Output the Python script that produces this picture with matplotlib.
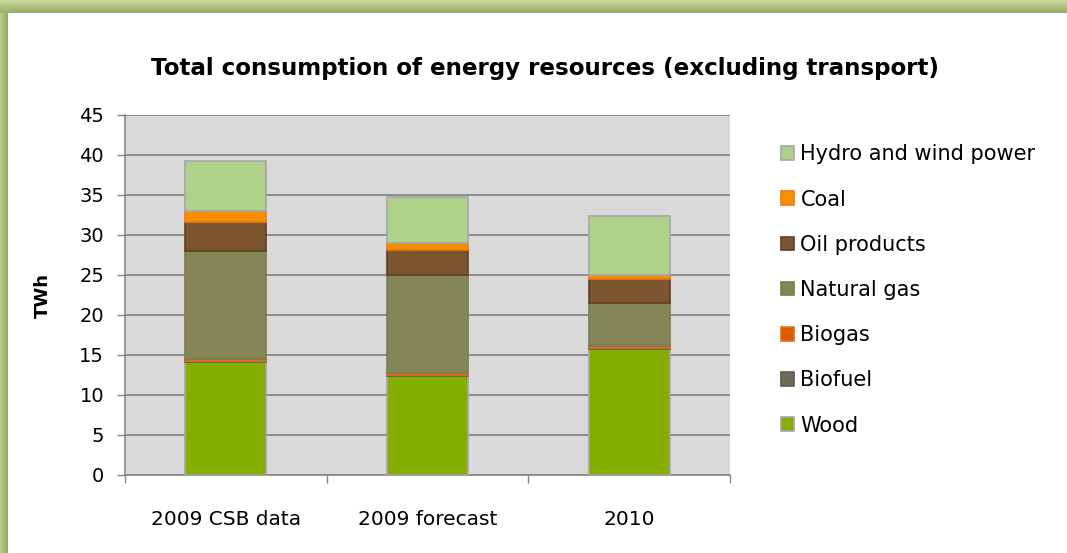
import matplotlib
matplotlib.use("Agg")
import matplotlib.pyplot as plt
import numpy as np
from matplotlib.patches import Patch

categories = ["2009 CSB data", "2009 forecast", "2010"]
series_names = ["Wood", "Biofuel", "Biogas", "Natural gas", "Oil products", "Coal", "Hydro and wind power"]
wood = [14.1, 12.35, 15.7]
biofuel = [0.1, 0.1, 0.15]
biogas = [0.25, 0.25, 0.3]
natural_gas = [13.6, 12.3, 5.3]
oil_products = [3.55, 3.1, 3.05]
coal = [1.4, 0.95, 0.5]
hydro_wind = [6.25, 5.75, 7.4]
yticks = list(range(0, 50, 5))

series_values = [wood, biofuel, biogas, natural_gas, oil_products, coal, hydro_wind]
face_colors = ["#84AE00", "#6F6A55", "#D85B00", "#848657", "#7B5530", "#F79000", "#AED28A"]
edge_colors = ["#A6A6A6", "#5E5A48", "#E07020", "#7A7C50", "#5E4024", "#F07A10", "#A6A6A6"]

plt.rcParams['font.family'] = ['DejaVu Sans']

fig = plt.figure(figsize=(10.67, 5.53), dpi=100)
fig.patch.set_facecolor("white")

# green frame
W, H = 1067, 553
top_band = 13 / H
left_band = 8 / W
grad = np.linspace(0, 1, 50).reshape(-1, 1)
ax_top = fig.add_axes([0, 1 - top_band, 1, top_band])
ax_top.imshow(grad, aspect='auto', cmap=matplotlib.colors.LinearSegmentedColormap.from_list("g", ["#98AC6C", "#C9DC9C"]), origin='lower', extent=[0, 1, 0, 1])
ax_top.axis('off')
ax_left = fig.add_axes([0, 0, left_band, 1 - top_band])
ax_left.imshow(grad.T, aspect='auto', cmap=matplotlib.colors.LinearSegmentedColormap.from_list("g2", ["#B9CF8C", "#94A868"]), extent=[0, 1, 0, 1])
ax_left.axis('off')

ax = fig.add_axes([125 / W, 1 - 475 / H, 605 / W, 360 / H])
ax.set_facecolor("#D9D9D9")
x = np.arange(len(categories))
bottom = np.zeros(len(categories))
for name, vals, fc, ec in zip(series_names, series_values, face_colors, edge_colors):
    ax.bar(x, vals, bottom=bottom, width=0.4, color=fc, edgecolor=ec, linewidth=1.2, label=name, zorder=3)
    bottom += np.array(vals)

ax.set_xlim(-0.5, len(categories) - 0.5)
ax.set_ylim(0, 45)
ax.set_yticks(yticks)
ax.tick_params(axis='y', direction='out', length=6, color="#868686", labelsize=14, pad=9, width=1)
ax.set_xticks(x)
ax.set_xticklabels(categories, fontsize=14.5)
ax.tick_params(axis='x', length=0, pad=25)
ax.set_xticks(np.arange(len(categories) + 1) - 0.5, minor=True)
ax.tick_params(axis='x', which='minor', direction='out', length=6, color="#868686", width=1)
ax.yaxis.grid(True, color="#868686", linewidth=1.3, zorder=0)
ax.set_axisbelow(True)
for s in ["top", "right"]:
    ax.spines[s].set_visible(False)
for s in ["left", "bottom"]:
    ax.spines[s].set_color("#868686")
    ax.spines[s].set_linewidth(1.2)
ax.set_ylabel("TWh", fontsize=13, fontweight='bold', labelpad=20)

handles = [Patch(facecolor=fc, edgecolor=ec, linewidth=1.2) for fc, ec in zip(face_colors, edge_colors)]
leg = fig.legend(handles[::-1], series_names[::-1], loc='upper left', bbox_to_anchor=(773 / W, 1 - 136 / H),
                 frameon=False, fontsize=15, handlelength=0.62, handleheight=0.62, handletextpad=0.3,
                 labelspacing=1.21, borderaxespad=0)

fig.text(545 / W, 1 - 68 / H, "Total consumption of energy resources (excluding transport)",
         ha='center', va='center', fontsize=16.6, fontweight='bold')

fig.savefig("out.png", dpi=100)
